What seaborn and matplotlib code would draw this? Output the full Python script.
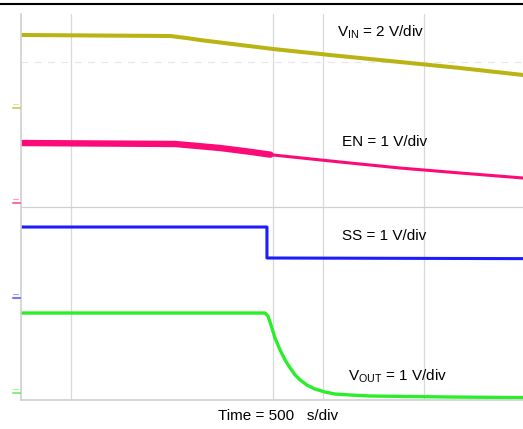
import matplotlib
matplotlib.use("Agg")
import matplotlib.pyplot as plt
from matplotlib.lines import Line2D
import seaborn as sns
import pandas as pd

# ---- data (time and amplitude in screen divisions) ----
vin_t = [0.00, 2.96, 3.30, 3.55, 4.35, 5.00, 6.13, 7.52, 8.71, 9.96]
vin_v = [7.565, 7.544, 7.500, 7.461, 7.358, 7.275, 7.150, 7.005, 6.881, 6.736]

en_noisy_t = [0.00, 3.06, 3.95, 4.50, 4.95]
en_noisy_v = [5.326, 5.306, 5.223, 5.150, 5.085]
en_t = [4.95, 5.00, 6.33, 7.52, 8.71, 9.96]
en_v = [5.085, 5.078, 4.933, 4.808, 4.705, 4.601]

ss_t = [0.00, 4.88, 4.88, 9.96]
ss_v = [3.585, 3.585, 2.943, 2.930]

vout_t = [0.00, 4.84, 4.90, 4.96, 5.04, 5.14, 5.24, 5.34, 5.44, 5.54, 5.67,
          5.83, 6.03, 6.23, 6.53, 6.92, 8.51, 9.96]
vout_v = [1.803, 1.803, 1.741, 1.554, 1.285, 1.036, 0.829, 0.663, 0.518, 0.415, 0.311,
          0.228, 0.166, 0.124, 0.104, 0.083, 0.062, 0.050]

labels = [r"V$_{\mathrm{IN}}$ = 2 V/div", "EN = 1 V/div", "SS = 1 V/div",
          r"V$_{\mathrm{OUT}}$ = 1 V/div"]
time_label = "Time = 500   s/div"

colors = {"vin": "#b9b414", "en": "#fb0a78", "ss": "#1c1cff", "vout": "#2aee2a"}

sns.set_style("white")
plt.rcParams["font.family"] = ["Liberation Sans", "DejaVu Sans"]
plt.rcParams["mathtext.fontset"] = "custom"
plt.rcParams["mathtext.rm"] = "Liberation Sans"
plt.rcParams["mathtext.it"] = "Liberation Sans"
plt.rcParams["text.color"] = "black"

W, H = 523, 429
fig = plt.figure(figsize=(W / 100, H / 100), dpi=100)
x0, x1, y0, y1 = 21, 523, 14, 400
ax = fig.add_axes([x0 / W, 1 - y1 / H, (x1 - x0) / W, (y1 - y0) / H])
ax.set_xlim(0, (x1 - x0) / 50.4)
ax.set_ylim(0, 8)

# grid
for gx in [1, 5, 6, 8]:
    ax.axvline(gx, color="#d8d8d8", lw=0.9, zorder=0)
ax.axhline(4, color="#d0d0d0", lw=0.9, zorder=0)
ax.axhline(7, color="#e6e6e6", lw=0.8, ls=(0, (6, 6)), zorder=0)

def trace(t, v, color, lw):
    df = pd.DataFrame({"t": t, "v": v})
    sns.lineplot(data=df, x="t", y="v", color=color, lw=lw, ax=ax,
                 estimator=None, sort=False, legend=False)

trace(vin_t, vin_v, colors["vin"], 2.9)
trace(en_noisy_t, en_noisy_v, colors["en"], 4.6)
trace(en_t, en_v, colors["en"], 2.2)
trace(ss_t, ss_v, colors["ss"], 2.2)
trace(vout_t, vout_v, colors["vout"], 2.4)

ax.set_xlabel("")
ax.set_ylabel("")
ax.set_xticks([])
ax.set_yticks([])
for s in ["top", "right"]:
    ax.spines[s].set_visible(False)
for s in ["left", "bottom"]:
    ax.spines[s].set_color("#cfcfcf")
    ax.spines[s].set_linewidth(1.2)

# labels
fs = 11
ax.text(6.27, 7.63, labels[0], fontsize=fs, va="center", ha="left", color="black")
ax.text(6.37, 5.35, labels[1], fontsize=fs, va="center", ha="left", color="black")
ax.text(6.37, 3.40, labels[2], fontsize=fs, va="center", ha="left", color="black")
ax.text(6.49, 0.50, labels[3], fontsize=fs, va="center", ha="left", color="black")

fig.text(278 / W, 1 - 416 / H, time_label, fontsize=fs, ha="center", va="center", color="black")

# channel ground markers on left edge
for ypx, c in [(108, colors["vin"]), (203, colors["en"]), (298, colors["ss"]), (393, colors["vout"])]:
    fig.add_artist(Line2D([13 / W, 20 / W], [1 - ypx / H, 1 - ypx / H], color=c, lw=1.5, alpha=0.6))
    fig.add_artist(Line2D([13 / W, 18 / W], [1 - (ypx - 4) / H, 1 - (ypx - 4) / H], color=c, lw=0.8, alpha=0.4))

# top black rule
fig.add_artist(Line2D([0, 1], [1 - 4 / H, 1 - 4 / H], color="black", lw=1.5))

fig.savefig("out.png", dpi=100)
